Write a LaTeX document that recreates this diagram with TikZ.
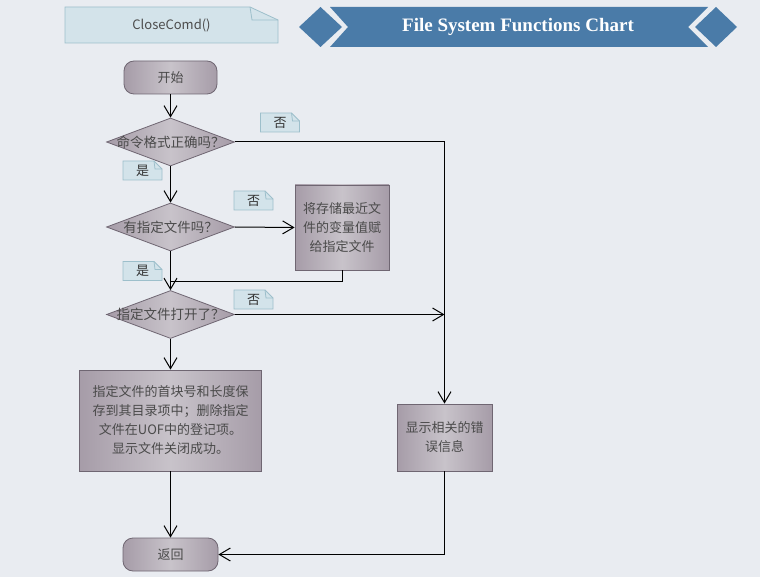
\documentclass[tikz,border=0pt]{standalone}
\usepackage{fontspec}
\setmainfont{Liberation Serif}
\newfontfamily\cjk{Noto Sans CJK SC}
\usetikzlibrary{shapes.geometric,arrows.meta}
\definecolor{bgc}{HTML}{E9ECF1}
\definecolor{nodeedge}{HTML}{A69CA8}
\definecolor{nodemid}{HTML}{C8C3CA}
\definecolor{nodeline}{HTML}{6F6672}
\definecolor{nodetxt}{HTML}{4A4A4A}
\definecolor{notefill}{HTML}{D3E3EA}
\definecolor{noteline}{HTML}{9DBFCB}
\definecolor{banner}{HTML}{4A7BA8}
\tikzset{
  proc/.style={rectangle, draw=nodeline, line width=0.8pt, left color=nodeedge, right color=nodeedge, middle color=nodemid,
    text=nodetxt, font=\cjk\fontsize{13}{19}\selectfont, align=center, inner sep=0pt},
  term/.style={proc, rounded corners=10pt},
  dia/.style={diamond, draw=nodeline, line width=0.8pt, left color=nodeedge, right color=nodeedge, middle color=nodemid,
    inner sep=0pt, minimum width=128pt, minimum height=48pt, aspect=2.67},
  diatxt/.style={text=nodetxt, font=\cjk\fontsize{13.5}{16}\selectfont, inner sep=0pt},
  notepath/.style={fill=notefill, draw=noteline, line width=0.8pt},
  notetxt/.style={text=black!80, font=\cjk\fontsize{13}{16}\selectfont, inner sep=0pt},
  conn/.style={draw=black, line width=1pt},
  arr/.style={conn, -{Straight Barb[length=11pt,width=13pt,line width=1pt]}},
}
\newcommand\dognote[4]{%
  \filldraw[notepath] (#2-19.5,#3-9.5) -- (#2+11.5,#3-9.5) -- (#2+19.5,#3-1.5) -- (#2+19.5,#3+9.5) -- (#2-19.5,#3+9.5) -- cycle;
  \draw[noteline, line width=0.8pt] (#2+11.5,#3-9.5) -- (#2+12.5,#3-1.5) -- (#2+19.5,#3-1.5);
  \node[notetxt] (#1) at (#2,#3) {#4};}
\begin{document}
\begin{tikzpicture}[x=1pt,y=-1pt]
\fill[bgc] (0,0) rectangle (760,577);
\useasboundingbox (0,0) rectangle (760,577);
% header note
\filldraw[notepath] (65,7) -- (250,7) -- (278,20) -- (278,43) -- (65,43) -- cycle;
\draw[noteline, line width=0.8pt] (250,7) -- (252,20) -- (278,20);
\node[text=black!70, font=\cjk\fontsize{13}{16}\selectfont] (cc) at (171.5,25.5) {CloseComd()};
% title banner
\fill[banner] (330,7) -- (708,7) -- (688,27) -- (708,47) -- (330,47) -- (348,27) -- cycle;
\fill[banner] (320.5,7) -- (342,27) -- (320.5,47) -- (299,27) -- cycle;
\fill[banner] (716,7) -- (737,27) -- (716,47) -- (695,27) -- cycle;
\node[text=white, font=\bfseries\fontsize{19}{22}\selectfont] (title) at (518,27) {File System Functions Chart};
% nodes
\node[term, minimum width=93pt, minimum height=33pt] (start) at (170.5,77.5) {开始};
\node[dia] (d1) at (170.5,142) {};
\node[diatxt] (d1t) at (d1) {命令格式正确吗？};
\node[dia] (d2) at (170.5,227) {};
\node[diatxt] (d2t) at (d2) {有指定文件吗？};
\node[dia] (d3) at (170.5,314.5) {};
\node[diatxt] (d3t) at (d3) {指定文件打开了？};
\node[proc, minimum width=94pt, minimum height=85pt] (assign) at (342,227.5) {将存储最近文\\件的变量值赋\\给指定文件};
\node[proc, minimum width=182pt, minimum height=101pt] (save) at (170.5,420.5) {指定文件的首块号和长度保\\存到其目录项中；删除指定\\文件在UOF中的登记项。\\显示文件关闭成功。};
\node[proc, minimum width=95pt, minimum height=67pt] (err) at (444.5,437.5) {显示相关的错\\误信息};
\node[term, minimum width=95pt, minimum height=33pt] (ret) at (170.5,554.5) {返回};
% notes
\dognote{n1}{280}{122.5}{否}
\dognote{y1}{142.5}{170.5}{是}
\dognote{n2}{253.5}{200.5}{否}
\dognote{y2}{142.5}{271}{是}
\dognote{n3}{253.5}{299.5}{否}
% connectors
\coordinate (m) at (170.5,282);
\coordinate (c3) at (444.5,314.5);
\draw[arr] (start) -- (d1);
\draw[arr] (d1.east) -| (err.north);
\draw[arr] (d1) -- (d2);
\draw[arr] (d2.east) -- (assign.west);
\draw[conn] (assign.south) |- (m);
\draw[arr] (d2) -- (d3);
\draw[arr] (d3.east) -- (c3);
\draw[arr] (d3) -- (save);
\draw[arr] (save) -- (ret);
\draw[arr] (err.south) |- (ret.east);
\end{tikzpicture}
\end{document}
